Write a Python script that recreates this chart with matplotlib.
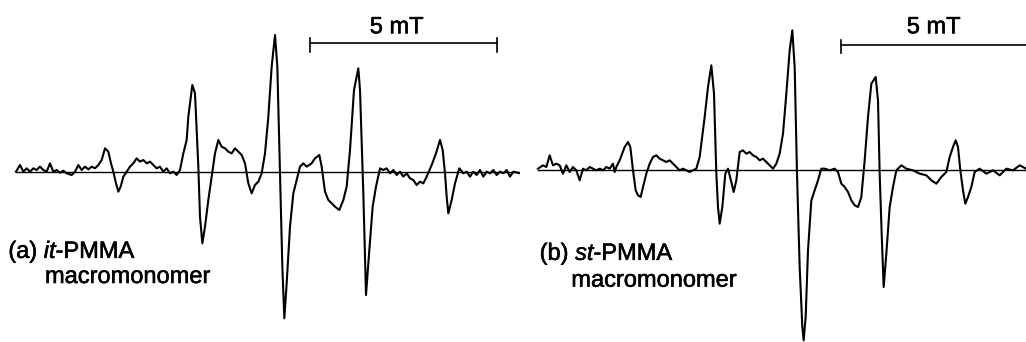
import matplotlib
matplotlib.use('Agg')
import matplotlib.pyplot as plt
import matplotlib.patheffects as pe

# ESR spectra, field and intensity in arbitrary units
field_a = [48, 60, 70, 80, 90, 100, 110, 120, 130, 140, 150, 160, 170, 180, 190, 200, 215, 225, 235, 245,
           255, 265, 275, 285, 295, 305, 315, 325, 333, 340, 348, 355, 362, 370, 380, 390, 400, 410, 420, 430,
           440, 450, 460, 470, 480, 490, 500, 510, 520, 530, 540, 550, 560, 565, 577, 585, 595, 600, 607, 615,
           625, 635, 645, 655, 665, 675, 685, 695, 705, 715, 725, 735, 745, 755, 765, 775, 785, 795, 805, 815,
           825, 832, 840, 847, 853, 860, 870, 880, 890, 900, 910, 920, 935, 945, 958, 965, 975, 985, 995, 1005,
           1018, 1030, 1040, 1050, 1062, 1075, 1080, 1090, 1098, 1108, 1118, 1128, 1140, 1150, 1160, 1170, 1180,
           1190, 1200, 1210, 1220, 1230, 1240, 1250, 1260, 1270, 1280, 1295, 1308, 1320, 1328, 1335, 1340, 1345,
           1355, 1365, 1378, 1390, 1400, 1410, 1420, 1430, 1440, 1450, 1460, 1470, 1480, 1490, 1500, 1510, 1520,
           1530, 1540, 1560]
signal_a = [0, 20, 0, 10, 0, 10, 5, 15, 5, 0, 25, 0, 5, -3, 3, -5, -10, 0, 20, 5,
            15, 7, 15, 10, 20, 35, 70, 60, 25, 0, -35, -60, -45, -15, 0, 15, 25, 40, 30, 35,
            25, 30, 20, 10, 15, 0, 10, -5, 0, -10, 5, 55, 95, 165, 260, 235, 15, -135, -215, -165,
            -85, -15, 55, 95, 75, 70, 60, 55, 70, 60, 50, 25, -35, -65, -40, -30, -5, 55, 165, 315,
            410, 315, -5, -285, -440, -335, -165, -65, -25, 15, 25, 15, 25, 40, 50, 15, -60, -85, -95, -105,
            -115, -85, -45, 65, 245, 310, 245, -65, -370, -235, -105, -45, 10, 5, 10, -5, 5,
            -10, 0, -15, -5, -20, -25, -40, -30, -35, -15, 20, 55, 95, 65, -5, -75, -125,
            -85, -35, 10, -5, 0, -15, 0, -10, 5, -15, 0, -5, 5, -10, 0, -5, 5,
            -15, 0, -5]

field_b = [75, 90, 100, 110, 120, 130, 140, 150, 160, 170, 180, 190, 200, 210, 220, 230, 240, 250, 260, 270,
           280, 290, 300, 305, 310, 320, 335, 345, 352, 360, 368, 375, 383, 390, 400, 410, 420, 430, 440, 450,
           460, 470, 480, 490, 500, 510, 530, 550, 560, 575, 585, 595, 603, 610, 615, 620, 628, 637, 645, 655,
           662, 670, 680, 690, 700, 710, 720, 730, 740, 750, 760, 770, 780, 790, 800, 810, 820, 830, 838, 845,
           852, 860, 868, 872, 878, 885, 895, 905, 915, 925, 935, 950, 965, 975, 985, 995, 1005, 1015, 1025,
           1035, 1045, 1055, 1065, 1075, 1088, 1095, 1100, 1106, 1112, 1120, 1130, 1140, 1150, 1165, 1180, 1200,
           1220, 1240, 1255, 1270, 1285, 1300, 1310, 1320, 1328, 1335, 1342, 1350, 1357, 1365, 1375, 1385, 1400,
           1420, 1440, 1460, 1480, 1500, 1520, 1539]
signal_b = [5, 15, 10, 45, 15, 20, 15, -10, 15, -5, 10, 0, -30, 5, 0, 10, 5, 0, 5, 0,
            10, 5, 20, -5, 10, 30, 70, 85, 70, 0, -60, -75, -80, -50, -10, 20, 40, 45, 35, 30,
            25, 30, 20, 10, 0, 5, -5, 5, 40, 160, 250, 315, 230, -10, -110, -160, -110, -10, 5, -35,
            -65, -30, 55, 60, 50, 55, 45, 40, 30, 35, 25, 15, 5, 20, 50, 110, 230, 360, 420, 310,
            -10, -290, -470, -510, -440, -240, -90, -60, -30, 5, 5, 0, 5, -5, -40, -50, -65, -90, -105,
            -110, -80, 30, 160, 260, 280, 210, -10, -190, -350, -250, -110, -50, 0, 15, 5, 0,
            -10, -15, -30, -40, -20, -5, 40, 70, 90, 70, 0, -60, -100, -80, -50, -5, 5,
            -10, 0, -15, 5, 0, 15, 5]

labels = [('(a) ', 'it', 'macromonomer'), ('(b) ', 'st', 'macromonomer')]
scale_text = '5 mT'

plt.rcParams['font.family'] = 'Liberation Sans'
plt.rcParams['mathtext.fontset'] = 'custom'
plt.rcParams['mathtext.rm'] = 'Liberation Sans'
plt.rcParams['mathtext.it'] = 'Liberation Sans:italic'

FS = 17
ink = [pe.withStroke(linewidth=0.4, foreground='black')]

fig = plt.figure(figsize=(10.26, 3.42), dpi=100)

# panel a
ax1 = fig.add_axes([0, 0, 520 / 1026, 1])
ax1.plot(field_a, signal_a, color='black', lw=1.5)
ax1.plot([field_a[0], field_a[-1]], [0, 0], color='black', lw=1.0)
ax1.set_xlim(0, 1560)
ax1.set_ylim(-511, 515)
ax1.plot([930, 1490], [385, 385], color='black', lw=1.2)
ax1.plot([930, 930], [360, 400], color='black', lw=1.2)
ax1.plot([1490, 1490], [360, 400], color='black', lw=1.2)
ax1.text(1190, 415, scale_text, ha='center', va='baseline', fontsize=FS, path_effects=ink)
ax1.text(25, -259, labels[0][0] + r'$\it{' + labels[0][1] + r'}$' + '-PMMA', ha='left', va='baseline',
         fontsize=FS, path_effects=ink)
ax1.text(135, -334, labels[0][2], ha='left', va='baseline', fontsize=FS, path_effects=ink)
ax1.axis('off')

# panel b
ax2 = fig.add_axes([513 / 1026, 0, 513 / 1026, 1])
ax2.patch.set_alpha(0)
ax2.plot(field_b, signal_b, color='black', lw=1.5)
ax2.plot([field_b[0], field_b[-1]], [0, 0], color='black', lw=1.0)
ax2.set_xlim(0, 1539)
ax2.set_ylim(-515, 511)
ax2.plot([985, 1545], [376, 376], color='black', lw=1.2)
ax2.plot([985, 985], [351, 391], color='black', lw=1.2)
ax2.text(1262, 411, scale_text, ha='center', va='baseline', fontsize=FS, path_effects=ink)
ax2.text(80, -269, labels[1][0] + r'$\it{' + labels[1][1] + r'}$' + '-PMMA', ha='left', va='baseline',
         fontsize=FS, path_effects=ink)
ax2.text(175, -349, labels[1][2], ha='left', va='baseline', fontsize=FS, path_effects=ink)
ax2.axis('off')

fig.savefig('out.png', dpi=100)
